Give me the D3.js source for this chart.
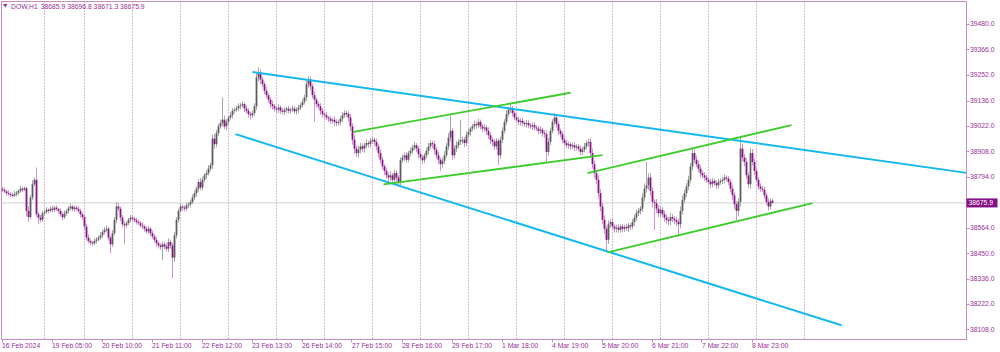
<!DOCTYPE html>
<html>
<head>
<meta charset="utf-8">
<script src="https://cdn.jsdelivr.net/npm/d3@7"></script>
<style>
  html, body { margin: 0; padding: 0; background: #fff; }
  #chart { width: 1000px; height: 352px; }
  text { font-family: "Liberation Sans", Arial, sans-serif; }
</style>
</head>
<body>
<div id="chart"></div>
<script>
const symbol = "DOW,H1";
const lastBar = [38685.9, 38696.8, 38671.3, 38675.9];
const firstOpen = 38740;

// H1 closes, one per bar
const closes = [
  38735,38728,38720,38716,38712,38708,38715,38722,38730,38740,38735,38742,38640,38612,38700,38760,38780,38625,38610,38600,
  38630,38635,38645,38640,38650,38645,38655,38648,38640,38625,38612,38628,38640,38652,38660,38648,38655,38648,38640,38625,
  38612,38570,38520,38505,38498,38495,38505,38512,38520,38530,38545,38555,38560,38520,38490,38540,38600,38660,38650,38610,
  38580,38575,38585,38600,38610,38605,38598,38590,38585,38575,38570,38560,38548,38560,38540,38525,38510,38495,38485,38478,
  38490,38480,38470,38500,38485,38430,38530,38600,38640,38660,38655,38650,38665,38670,38680,38700,38720,38740,38770,38745,
  38780,38800,38810,38830,38845,38965,38940,38990,39020,39035,39050,39020,39040,39060,39070,39090,39095,39100,39110,39115,
  39120,39100,39090,39075,39070,39080,39110,39240,39260,39230,39210,39180,39160,39140,39120,39110,39100,39095,39105,39090,
  39085,39095,39100,39090,39095,39100,39088,39095,39105,39115,39130,39150,39210,39230,39200,39160,39140,39120,39110,39090,
  39075,39070,39060,39055,39045,39050,39040,39035,39040,39055,39070,39080,39075,39060,39020,38960,38920,38900,38915,38930,
  38920,38935,38945,38940,38955,38960,38950,38930,38900,38870,38840,38820,38800,38790,38800,38780,38810,38790,38770,38868,
  38880,38890,38870,38900,38910,38925,38935,38920,38895,38880,38868,38890,38910,38930,38945,38940,38915,38890,38870,38850,
  38865,38890,38930,38970,39000,38890,38920,38935,38950,38958,38960,38945,38980,38995,39010,39020,39030,39025,39040,39020,
  39010,39015,39000,38980,38960,38950,38930,38955,38890,38960,39000,39040,39075,39095,39100,39080,39060,39050,39040,39045,
  39035,39030,39035,39025,39020,39025,39015,39010,39000,39005,38990,38985,38905,38950,39000,39040,39060,39030,39000,38985,
  38960,38945,38935,38940,38930,38935,38925,38930,38920,38905,38915,38930,38945,38950,38900,38850,38810,38780,38720,38660,
  38600,38560,38510,38580,38590,38570,38560,38565,38555,38570,38560,38568,38562,38575,38570,38590,38610,38630,38640,38650,
  38700,38740,38755,38790,38730,38680,38675,38650,38630,38645,38625,38610,38600,38595,38612,38605,38598,38590,38580,38640,
  38690,38720,38750,38780,38840,38900,38870,38850,38830,38810,38800,38790,38780,38770,38760,38775,38765,38755,38770,38775,
  38780,38790,38785,38770,38740,38710,38670,38640,38680,38920,38880,38860,38800,38760,38900,38860,38820,38780,38750,38740,
  38735,38710,38680,38660,38685.9,38675.9
];

// wick length above / below the body, in points
const wickUp = [
  8,10,6,12,8,10,14,9,7,12,10,8,6,20,12,18,10,55,10,12,
  10,8,12,6,10,14,8,10,6,12,9,14,8,10,12,6,10,8,12,10,
  8,10,12,15,10,8,12,10,9,14,10,12,15,8,10,14,12,20,16,10,
  12,14,10,8,12,10,8,12,9,10,14,8,12,10,8,12,10,14,8,10,
  12,10,14,16,12,10,15,12,10,14,8,10,12,9,10,14,12,10,12,18,
  14,10,12,16,12,18,20,14,12,16,100,18,12,10,14,12,10,12,14,10,
  12,10,14,12,10,12,14,18,25,16,14,12,18,10,12,16,10,12,14,10,
  12,10,8,12,10,14,12,10,12,10,14,12,18,15,14,12,16,10,12,14,
  12,10,14,8,12,10,14,12,10,12,14,12,10,12,16,14,20,12,18,16,
  14,12,16,10,14,12,10,14,12,16,12,10,14,12,18,10,14,12,10,12,
  14,12,16,10,14,12,16,10,12,14,12,10,14,16,12,10,14,12,16,10,
  14,18,16,20,70,12,14,18,12,90,14,12,18,14,10,12,16,12,14,10,
  12,14,10,16,12,10,14,12,10,14,16,12,18,14,25,12,10,14,12,10,
  12,10,14,12,10,12,14,10,12,14,10,12,16,18,14,12,20,14,12,10,
  12,10,14,12,10,12,14,10,12,14,12,16,12,14,18,20,16,14,20,18,
  16,20,14,18,12,14,10,12,14,10,12,10,14,12,10,14,12,16,14,12,
  20,24,105,18,20,16,14,18,16,14,12,16,14,12,18,14,12,16,14,20,
  18,16,14,18,16,20,20,18,16,14,12,14,12,10,14,12,10,12,14,10,
  12,14,10,12,14,16,12,14,18,50,20,16,18,14,24,18,16,14,12,14,
  12,14,10,16,11,10.9
];
const wickDown = [
  10,8,12,6,10,8,6,10,12,8,10,6,25,22,10,12,8,14,30,12,
  10,12,8,10,6,12,10,8,12,10,14,8,10,12,8,10,12,8,10,14,
  12,16,14,10,12,14,10,12,8,10,12,10,12,14,40,12,10,14,12,16,
  14,85,12,10,12,14,10,12,8,10,12,14,10,12,14,10,12,16,14,12,
  60,14,12,16,14,93,20,14,12,10,14,12,10,12,14,10,12,14,16,12,
  14,12,16,10,12,16,20,14,12,10,16,14,18,12,10,14,12,10,12,14,
  10,16,12,14,18,12,14,16,18,20,14,16,12,14,18,16,14,12,16,14,
  12,14,16,12,14,10,12,14,16,12,10,12,14,16,18,14,100,16,14,18,
  16,14,12,16,14,12,18,14,12,16,14,12,14,18,20,22,24,18,20,16,
  14,18,12,16,14,12,16,18,20,16,14,18,16,20,14,18,16,20,20,14,
  12,16,14,12,16,14,12,16,18,14,16,12,14,16,12,18,20,16,18,30,
  16,14,12,16,18,20,14,16,12,14,16,18,12,14,16,12,14,16,12,14,
  16,14,18,16,20,18,16,14,44,16,14,12,14,12,14,16,14,12,14,16,
  14,12,16,14,12,16,14,12,16,14,18,16,45,16,14,12,14,16,18,14,
  16,14,12,16,14,12,16,14,12,16,14,12,14,16,18,20,22,20,24,22,
  20,24,55,18,16,14,18,16,14,12,16,14,12,16,14,12,16,14,12,16,
  14,16,18,20,22,24,120,20,18,16,14,18,16,20,18,16,18,20,55,18,
  16,14,18,16,14,18,16,14,16,18,14,16,14,12,16,14,12,16,14,12,
  14,16,12,14,18,20,22,42,24,20,18,20,16,18,20,16,18,14,16,14,
  12,16,14,18,12,4.6
];

const priceTicks = [39480, 39366, 39252, 39136, 39022, 38908, 38794, 38564, 38450, 38336, 38222, 38108];
const timeTickBars = [0, 25, 50, 75, 100, 125, 150, 175, 200, 225, 250, 275, 300, 325, 350, 375];
const timeTickLabels = ["16 Feb 2024", "19 Feb 05:00", "20 Feb 10:00", "21 Feb 11:00", "22 Feb 12:00",
  "23 Feb 13:00", "26 Feb 14:00", "27 Feb 15:00", "28 Feb 16:00", "29 Feb 17:00", "1 Mar 18:00",
  "4 Mar 19:00", "5 Mar 20:00", "6 Mar 21:00", "7 Mar 22:00", "8 Mar 23:00"];
const gridBars = [20.5, 40.5, 64.5, 88.5, 112.5, 136.5, 160.5, 184.5, 208.5, 232.5, 256.5, 280.5, 304.5, 328.5, 352.5, 376.5, 400.5];

// trend lines as [bar, price] pairs
const cyanLines = [
  [[125, 39264], [482, 38811]],
  [[116.5, 38985], [419.5, 38126]]
];
const greenLines = [
  [[175.5, 38995], [284, 39171]],
  [[190.5, 38759], [300, 38891]],
  [[292.5, 38810], [394.5, 39026]],
  [[302.5, 38454], [405, 38675]]
];

document.addEventListener("DOMContentLoaded", function() {
  const width = 1000, height = 352;
  const left = 1.5, right = 966.5, top = 1.5, bottom = 339.5;
  const textColor = "#9a2e9a", frameColor = "#c48cc4";

  const svg = d3.select("#chart").append("svg")
    .attr("width", width).attr("height", height);

  const x = d3.scaleLinear().domain([0, 482]).range([2.5, 966.5]);
  const y = d3.scaleLinear().domain([38108, 39480]).range([329.3, 24]);

  svg.append("clipPath").attr("id", "plot")
    .append("rect").attr("x", left).attr("y", top)
    .attr("width", right - left).attr("height", bottom - top);

  const plot = svg.append("g").attr("clip-path", "url(#plot)");

  // vertical dotted grid
  plot.append("g").selectAll("line")
    .data(gridBars).enter().append("line")
    .attr("x1", d => Math.round(x(d)) + 0.5).attr("x2", d => Math.round(x(d)) + 0.5)
    .attr("y1", top).attr("y2", bottom)
    .attr("stroke", "#b768b7").attr("stroke-width", 1)
    .attr("stroke-dasharray", "1,2");

  // current price line
  plot.append("line")
    .attr("x1", left).attr("x2", right)
    .attr("y1", y(lastBar[3])).attr("y2", y(lastBar[3]))
    .attr("stroke", "#cfcfcf").attr("stroke-width", 1);

  const bars = closes.map((c, i) => {
    const o = i ? closes[i - 1] : firstOpen;
    return { i: i, o: o, c: c, h: Math.max(o, c) + wickUp[i], l: Math.min(o, c) - wickDown[i] };
  });

  const candle = plot.append("g").selectAll("g")
    .data(bars).enter().append("g");

  candle.append("line")
    .attr("x1", d => x(d.i)).attr("x2", d => x(d.i))
    .attr("y1", d => y(d.h)).attr("y2", d => y(d.l))
    .attr("stroke", d => d.c >= d.o ? "#a6a6a6" : "#cf94cf")
    .attr("stroke-width", 1);

  candle.append("rect")
    .attr("x", d => x(d.i) - 0.9)
    .attr("width", 1.8)
    .attr("y", d => y(Math.max(d.o, d.c)))
    .attr("height", d => Math.max(1, y(Math.min(d.o, d.c)) - y(Math.max(d.o, d.c))))
    .attr("fill", d => d.c >= d.o ? "#5c5c5c" : "#8b108b");

  // trend lines
  const drawLines = (list, color, w) => plot.append("g").selectAll("line")
    .data(list).enter().append("line")
    .attr("x1", d => x(d[0][0])).attr("y1", d => y(d[0][1]))
    .attr("x2", d => x(d[1][0])).attr("y2", d => y(d[1][1]))
    .attr("stroke", color).attr("stroke-width", w);
  drawLines(cyanLines, "#13b8f0", 2);
  drawLines(greenLines, "#3ccc2c", 1.8);

  // frame
  svg.append("rect")
    .attr("x", left).attr("y", top)
    .attr("width", right - left).attr("height", bottom - top)
    .attr("fill", "none").attr("stroke", frameColor).attr("stroke-width", 1);

  // price axis
  const py = svg.append("g").selectAll("g")
    .data(priceTicks).enter().append("g");
  py.append("line")
    .attr("x1", right).attr("x2", right + 3)
    .attr("y1", d => Math.round(y(d)) + 0.5).attr("y2", d => Math.round(y(d)) + 0.5)
    .attr("stroke", frameColor);
  py.append("text")
    .attr("x", 970).attr("y", d => y(d) + 2.4)
    .attr("font-size", "6.8px").attr("fill", textColor)
    .text(d => d.toFixed(1));

  // current price tag
  svg.append("rect")
    .attr("x", right).attr("y", y(lastBar[3]) - 4.5)
    .attr("width", 31).attr("height", 9)
    .attr("fill", "#870f87");
  svg.append("text")
    .attr("x", 968.5).attr("y", y(lastBar[3]) + 2.4)
    .attr("font-size", "6.8px").attr("fill", "#ffffff")
    .text(lastBar[3].toFixed(1));

  // time axis
  const tx = svg.append("g").selectAll("g")
    .data(timeTickBars).enter().append("g");
  tx.append("line")
    .attr("x1", d => Math.round(x(d)) - 0.5).attr("x2", d => Math.round(x(d)) - 0.5)
    .attr("y1", bottom).attr("y2", bottom + 3)
    .attr("stroke", frameColor);
  tx.append("text")
    .attr("x", d => x(d) - 0.5).attr("y", 347.5)
    .attr("font-size", "6.8px").attr("fill", textColor)
    .text((d, i) => timeTickLabels[i]);

  // title
  svg.append("path")
    .attr("d", "M3,4 L7.5,4 L5.25,7.5 Z")
    .attr("fill", textColor);
  svg.append("text")
    .attr("x", 11).attr("y", 8.6)
    .attr("font-size", "6.8px").attr("fill", textColor)
    .text(symbol);
  svg.append("text")
    .attr("x", 40.7).attr("y", 8.6)
    .attr("font-size", "6.8px").attr("fill", textColor)
    .text(lastBar.map(v => v.toFixed(1)).join(" "));
});
</script>
</body>
</html>
